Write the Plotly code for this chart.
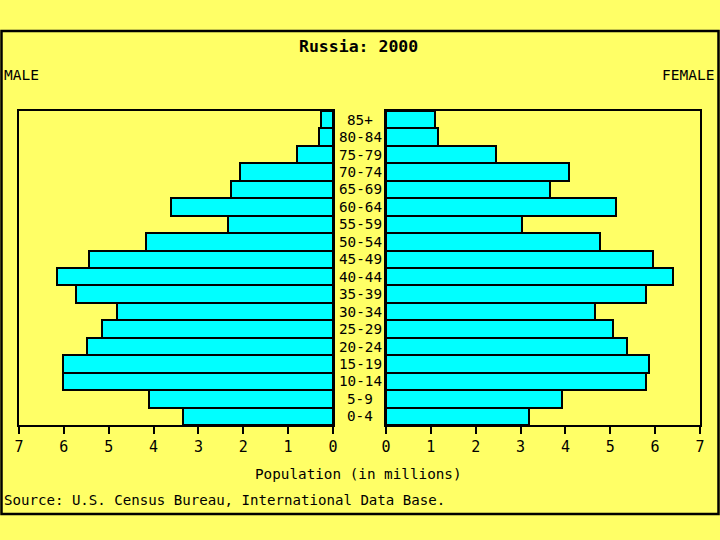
import plotly.graph_objects as go

ages = ["0-4", "5-9", "10-14", "15-19", "20-24", "25-29", "30-34", "35-39", "40-44",
        "45-49", "50-54", "55-59", "60-64", "65-69", "70-74", "75-79", "80-84", "85+"]
male = [3.34, 4.11, 6.03, 6.03, 5.48, 5.16, 4.81, 5.74, 6.16,
        5.45, 4.17, 2.35, 3.62, 2.28, 2.08, 0.81, 0.31, 0.27]
female = [3.19, 3.92, 5.80, 5.87, 5.38, 5.06, 4.66, 5.79, 6.40,
          5.95, 4.77, 3.03, 5.12, 3.66, 4.07, 2.45, 1.17, 1.10]
tick_vals = [0, 1, 2, 3, 4, 5, 6, 7]

BG = "#FFFF66"
BAR = "#00FFFF"
FONT = "DejaVu Sans Mono"
W, H = 720, 540

fig = go.Figure()
fig.add_trace(go.Bar(y=ages, x=male, orientation="h", xaxis="x", yaxis="y",
                     marker=dict(color=BAR, line=dict(color="black", width=2)),
                     showlegend=False, hoverinfo="skip"))
fig.add_trace(go.Bar(y=ages, x=female, orientation="h", xaxis="x2", yaxis="y2",
                     marker=dict(color=BAR, line=dict(color="black", width=2)),
                     showlegend=False, hoverinfo="skip"))

axis_common = dict(showline=True, linecolor="black", linewidth=2, mirror=True,
                   showgrid=False, zeroline=False, ticks="outside", ticklen=7,
                   tickwidth=2, tickcolor="black", tickvals=tick_vals,
                   tickfont=dict(family=FONT, size=15, color="black"), fixedrange=True,
                   automargin=False)
yaxis_common = dict(showline=True, linecolor="black", linewidth=2, mirror=True,
                    showgrid=False, zeroline=False, showticklabels=False, ticks="",
                    type="category", categoryorder="array", categoryarray=ages,
                    range=[-0.5, len(ages) - 0.5], automargin=False,
                    domain=[1 - 425 / H, 1 - 111 / H], fixedrange=True)

fig.update_layout(
    width=W, height=H,
    margin=dict(l=0, r=0, t=0, b=0, pad=0, autoexpand=False),
    paper_bgcolor=BG, plot_bgcolor=BG,
    bargap=0,
    xaxis=dict(domain=[19 / W, 333 / W], range=[7, 0], anchor="y", **axis_common),
    xaxis2=dict(domain=[386 / W, 700 / W], range=[0, 7], anchor="y2", **axis_common),
    yaxis=dict(anchor="x", **yaxis_common),
    yaxis2=dict(anchor="x2", **yaxis_common),
    font=dict(family=FONT, color="black"),
)

# age labels in the center gap
for a in ages:
    fig.add_annotation(x=360 / W, xref="paper", y=a, yref="y", text=a,
                       showarrow=False, xanchor="center", yanchor="middle",
                       font=dict(family=FONT, size=14.3, color="black"))

def txt(x, y, s, anchor, size=14.5, bold=False):
    fig.add_annotation(x=x / W, y=1 - y / H, xref="paper", yref="paper",
                       text=f"<b>{s}</b>" if bold else s, showarrow=False,
                       xanchor=anchor, yanchor="middle",
                       font=dict(family=FONT, size=size, color="black"))

txt(358, 47, "Russia: 2000", "center", size=16.5, bold=True)
txt(2, 75, "MALE", "left")
txt(716, 75, "FEMALE", "right")
txt(358, 474, "Population (in millions)", "center", size=14.3)
txt(2, 500, "Source: U.S. Census Bureau, International Data Base.", "left", size=14.1)

# outer frame
fig.add_shape(type="rect", xref="paper", yref="paper",
              x0=1.5 / W, x1=718.5 / W, y0=1 - 514 / H, y1=1 - 31 / H,
              line=dict(color="black", width=2.5), layer="below")

fig.write_html("out.html", config={"displayModeBar": False},
               post_script="document.body.style.margin='0';"
                           "document.body.style.background='" + BG + "';")
